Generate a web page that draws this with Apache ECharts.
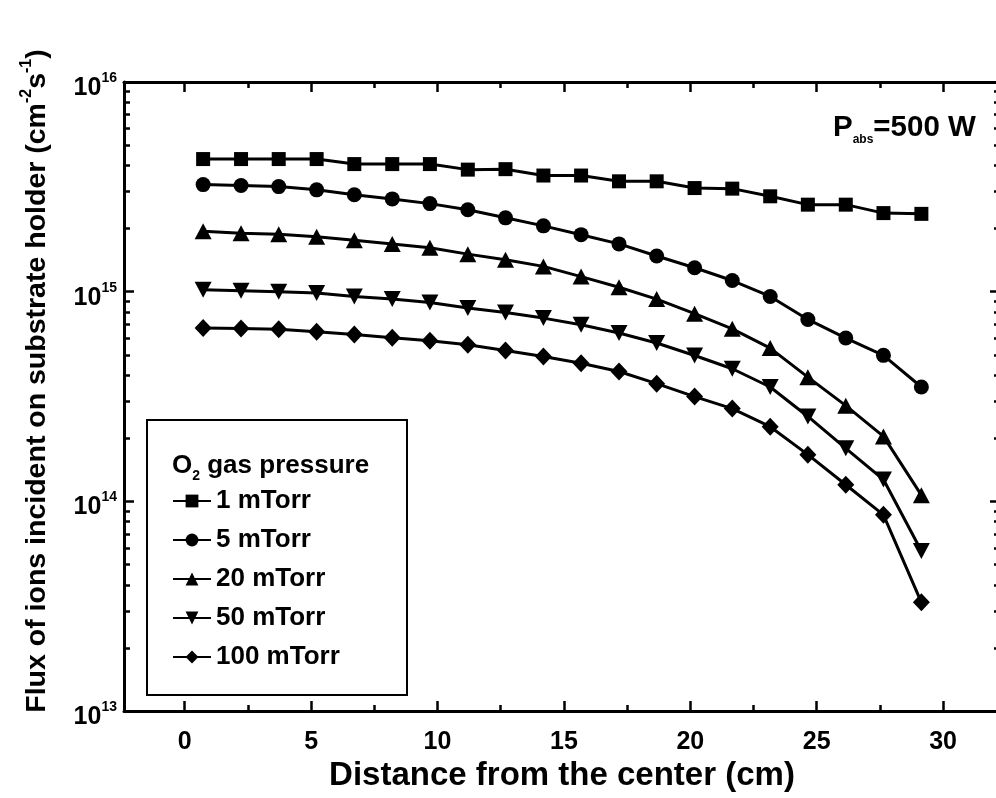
<!DOCTYPE html>
<html><head><meta charset="utf-8">
<script src="https://cdn.jsdelivr.net/npm/echarts@6/dist/echarts.min.js"></script>
<style>html,body{margin:0;padding:0;background:#fff}#c{width:996px;height:798px}</style>
</head><body><div id="c"></div>
<script>
// ---- data ----
const distances = [0.73, 2.23, 3.72, 5.22, 6.71, 8.21, 9.70, 11.20, 12.69, 14.19, 15.68, 17.18, 18.67, 20.17, 21.66, 23.16, 24.65, 26.15, 27.64, 29.14];
const flux1mTorr = [4.29e15, 4.29e15, 4.29e15, 4.29e15, 4.06e15, 4.06e15, 4.06e15, 3.82e15, 3.84e15, 3.58e15, 3.58e15, 3.36e15, 3.36e15, 3.12e15, 3.10e15, 2.85e15, 2.60e15, 2.60e15, 2.37e15, 2.35e15];
const flux5mTorr = [3.24e15, 3.21e15, 3.17e15, 3.06e15, 2.90e15, 2.77e15, 2.63e15, 2.46e15, 2.25e15, 2.06e15, 1.87e15, 1.69e15, 1.48e15, 1.30e15, 1.13e15, 9.49e14, 7.37e14, 6.01e14, 4.97e14, 3.51e14];
const flux20mTorr = [1.94e15, 1.90e15, 1.88e15, 1.83e15, 1.76e15, 1.69e15, 1.62e15, 1.51e15, 1.42e15, 1.32e15, 1.18e15, 1.05e15, 9.22e14, 7.85e14, 6.65e14, 5.38e14, 3.91e14, 2.86e14, 2.04e14, 1.07e14];
const flux50mTorr = [1.02e15, 1.01e15, 1.00e15, 9.85e14, 9.49e14, 9.22e14, 8.88e14, 8.35e14, 7.96e14, 7.48e14, 6.95e14, 6.35e14, 5.69e14, 4.96e14, 4.29e14, 3.51e14, 2.54e14, 1.79e14, 1.27e14, 5.80e13];
const flux100mTorr = [6.71e14, 6.67e14, 6.62e14, 6.44e14, 6.25e14, 6.03e14, 5.83e14, 5.58e14, 5.24e14, 4.91e14, 4.56e14, 4.16e14, 3.64e14, 3.16e14, 2.77e14, 2.27e14, 1.67e14, 1.20e14, 8.62e13, 3.30e13];
const seriesNames = ['1 mTorr', '5 mTorr', '20 mTorr', '50 mTorr', '100 mTorr'];
const xMajorTicks = [0, 5, 10, 15, 20, 25, 30];
const xMinorTicks = [2.5, 7.5, 12.5, 17.5, 22.5, 27.5];
const yDecadeTicks = [1e13, 1e14, 1e15, 1e16];
const yMinorTicks = [];
for (let e = 13; e < 16; e++) for (let m = 2; m <= 9; m++) yMinorTicks.push(m * Math.pow(10, e));

// ---- styling ----
const FONT = '"Liberation Sans", Arial, sans-serif';
const BLACK = '#000';
const X_MIN = -2.4, X_MAX = 32.25;
const grid = {left: 124, top: 82, width: 876, height: 629, outerBoundsMode: 'none', containLabel: false};

function xAxisDef(position, ticks, len, isMain) {
  return {
    type: 'value', position: position, min: X_MIN, max: X_MAX,
    axisLine: {show: isMain, onZero: false, lineStyle: {color: BLACK, width: 3}},
    axisTick: {show: true, inside: true, length: len, customValues: ticks, lineStyle: {color: BLACK, width: 2.5}},
    axisLabel: (isMain && position === 'bottom') ? {show: true, customValues: xMajorTicks, margin: 19, fontSize: 25, fontWeight: 'bold', fontFamily: FONT, color: BLACK} : {show: false},
    splitLine: {show: false},
    name: (isMain && position === 'bottom') ? 'Distance from the center (cm)' : '',
    nameLocation: 'middle', nameGap: 48, nameMoveOverlap: false,
    nameTextStyle: {fontSize: 33, fontWeight: 'bold', fontFamily: FONT, color: BLACK}
  };
}
function yAxisDef(position, ticks, len, isMain) {
  return {
    type: 'log', logBase: 10, position: position, min: 1e13, max: 1e16,
    axisLine: {show: isMain, onZero: false, lineStyle: {color: BLACK, width: 3}},
    axisTick: {show: true, inside: true, length: len, customValues: ticks, lineStyle: {color: BLACK, width: 2.5}},
    axisLabel: (isMain && position === 'left') ? {
      show: true, customValues: yDecadeTicks, margin: 7, padding: [12, 0, 0, 0],
      formatter: function (v) { const e = v > 100 ? Math.round(Math.log10(v)) : Math.round(v); return '{b|10}{s|' + e + '}'; },
      rich: {
        b: {fontSize: 25, fontWeight: 'bold', fontFamily: FONT, color: BLACK, lineHeight: 34},
        s: {fontSize: 14, fontWeight: 'bold', fontFamily: FONT, color: BLACK, verticalAlign: 'top', lineHeight: 14}
      }
    } : {show: false},
    splitLine: {show: false}, minorTick: {show: false}
  };
}

const symbols = ['rect', 'circle', 'triangle', 'triangle', 'diamond'];
const symbolRotates = [0, 0, 0, 180, 0];
const symbolSizes = [14, 15, [17, 16], [17, 16], [17, 18]];
const fluxes = [flux1mTorr, flux5mTorr, flux20mTorr, flux50mTorr, flux100mTorr];

const series = seriesNames.map(function (name, k) {
  return {
    name: name, type: 'line', xAxisIndex: 0, yAxisIndex: 0,
    data: distances.map(function (x, i) { return [x, fluxes[k][i]]; }),
    symbol: symbols[k], symbolRotate: symbolRotates[k], symbolSize: symbolSizes[k],
    showAllSymbol: true,
    lineStyle: {color: BLACK, width: 3}, itemStyle: {color: BLACK}, emphasis: {disabled: true},
    animation: false
  };
});

const option = {
  backgroundColor: '#fff',
  animation: false,
  grid: grid,
  xAxis: [xAxisDef('bottom', xMajorTicks, 10, true), xAxisDef('bottom', xMinorTicks, 6, false),
          xAxisDef('top', xMajorTicks, 10, true), xAxisDef('top', xMinorTicks, 6, false)],
  yAxis: [yAxisDef('left', yDecadeTicks, 10, true), yAxisDef('left', yMinorTicks, 6, false),
          yAxisDef('right', yDecadeTicks, 10, true), yAxisDef('right', yMinorTicks, 6, false)],
  legend: {
    show: true, orient: 'vertical', left: 172, top: 488, padding: 0,
    itemWidth: 38, itemHeight: 16, itemGap: 13, selectedMode: false,
    data: seriesNames,
    textStyle: {fontSize: 26, fontWeight: 'bold', fontFamily: FONT, color: BLACK}
  },
  graphic: [
    {type: 'rect', z: 0, shape: {x: 147, y: 420, width: 260, height: 275}, style: {fill: '#fff', stroke: BLACK, lineWidth: 2}},
    {type: 'text', z: 10, x: 172, y: 466, style: {
      text: '{m|O}{sub|2}{m| gas pressure}', align: 'left', verticalAlign: 'middle',
      rich: {m: {fontSize: 26, fontWeight: 'bold', fontFamily: FONT, fill: BLACK, lineHeight: 34},
             sub: {fontSize: 14, fontWeight: 'bold', fontFamily: FONT, fill: BLACK, verticalAlign: 'bottom', lineHeight: 14}}
    }},
    {type: 'text', z: 10, x: 833, y: 128, style: {
      text: '{m|P}{sub|abs}{m|=500 W}', align: 'left', verticalAlign: 'middle',
      rich: {m: {fontSize: 29.5, fontWeight: 'bold', fontFamily: FONT, fill: BLACK, lineHeight: 36},
             sub: {fontSize: 12, fontWeight: 'bold', fontFamily: FONT, fill: BLACK, verticalAlign: 'bottom', lineHeight: 12}}
    }},
    {type: 'text', z: 10, x: 37, y: 381, rotation: Math.PI / 2, style: {
      text: '{m|Flux of ions incident on substrate holder (cm}{sp|-2}{m|s}{sp|-1}{m|)}', align: 'center', verticalAlign: 'middle',
      rich: {m: {fontSize: 28.5, fontWeight: 'bold', fontFamily: FONT, fill: BLACK, lineHeight: 36},
             sp: {fontSize: 16, fontWeight: 'bold', fontFamily: FONT, fill: BLACK, verticalAlign: 'top', lineHeight: 16}}
    }}
  ],
  series: series
};

const chart = echarts.init(document.getElementById('c'), null, {renderer: 'canvas', width: 996, height: 798});
chart.setOption(option);
</script>
</body></html>
